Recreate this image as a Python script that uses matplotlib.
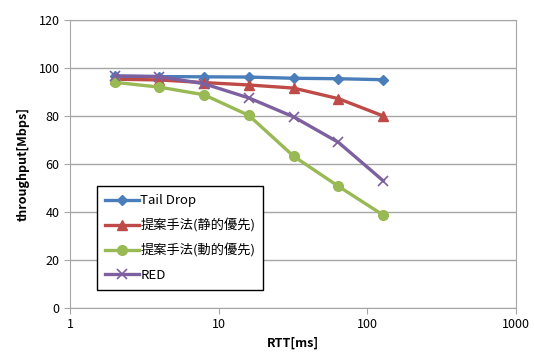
import matplotlib
matplotlib.use("Agg")
import matplotlib.pyplot as plt

plt.rcParams['font.family'] = ['Noto Sans CJK JP', 'DejaVu Sans']

rtt = [2, 4, 8, 16, 32, 64, 128]
tail_drop = [96.5, 96.4, 96.3, 96.2, 95.7, 95.5, 95.1]
static_prio = [95.3, 95.0, 93.9, 92.9, 91.6, 87.2, 80.0]
dynamic_prio = [94.0, 92.0, 88.8, 80.2, 63.2, 50.7, 38.7]
red = [96.7, 96.4, 93.4, 87.5, 79.6, 69.0, 53.0]

labels = ['Tail Drop', '提案手法(静的優先)', '提案手法(動的優先)', 'RED']

fig = plt.figure(figsize=(5.34, 3.56), dpi=100)
ax = fig.add_axes([0.131, 0.135, 0.835, 0.809])

ax.plot(rtt, tail_drop, color='#4a7ebb', lw=2.4, marker='D', ms=5, label=labels[0])
ax.plot(rtt, static_prio, color='#be4b48', lw=2.4, marker='^', ms=7, label=labels[1])
ax.plot(rtt, dynamic_prio, color='#98b954', lw=2.4, marker='o', ms=7, label=labels[2])
ax.plot(rtt, red, color='#7d60a0', lw=2.4, marker='x', ms=7, mew=1.2, label=labels[3])

ax.set_xscale('log')
ax.set_xlim(1, 1000)
ax.set_ylim(0, 120)
ax.set_xticks([1, 10, 100, 1000])
ax.set_xticklabels(['1', '10', '100', '1000'])
ax.xaxis.set_minor_locator(matplotlib.ticker.NullLocator())
ax.set_yticks(range(0, 121, 20))
ax.yaxis.grid(True, color='#a6a6a6', lw=1)
ax.set_axisbelow(True)
for s in ax.spines.values():
    s.set_color('#a6a6a6')
ax.tick_params(axis='both', colors='#a6a6a6', labelcolor='black', labelsize=9, length=4, direction='out')
ax.set_xlabel('RTT[ms]', fontsize=9, fontweight='bold')
ax.set_ylabel('throughput[Mbps]', fontsize=9, fontweight='bold', labelpad=6)

leg = ax.legend(loc='lower left', bbox_to_anchor=(0.06, 0.0625), borderaxespad=0, fontsize=9.5,
                fancybox=False, framealpha=1, edgecolor='black', handlelength=2.6, borderpad=0.6,
                labelspacing=0.85, handletextpad=0.1)
leg.get_frame().set_linewidth(1.0)

fig.savefig('out.png', dpi=100)
